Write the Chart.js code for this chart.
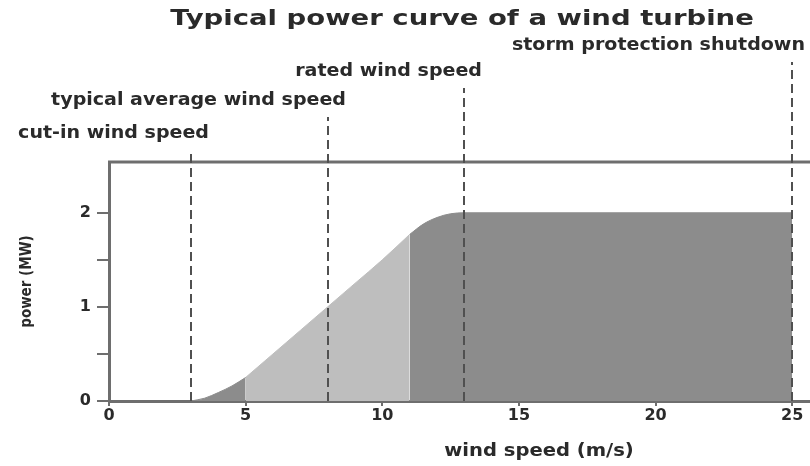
<!DOCTYPE html>
<html>
<head>
<meta charset="utf-8">
<script src="https://cdn.jsdelivr.net/npm/chart.js@4.4.1/dist/chart.umd.min.js"></script>
<style>
  html, body { margin: 0; padding: 0; background: #fff; }
  #wrap { width: 810px; height: 466px; }
</style>
</head>
<body>
<div id="wrap"><canvas id="power-chart" width="810" height="466"></canvas></div>
<script>
// power curve (wind speed m/s -> power MW)
const startupSpeeds = [3, 3.5, 4, 4.5, 5];
const startupPower = [0, 0.03, 0.09, 0.16, 0.25];
const rampSpeeds = [5, 6, 7, 8, 9, 10, 11];
const rampPower = [0.25, 0.5, 0.75, 1.0, 1.25, 1.5, 1.77];
const ratedSpeeds = [11, 11.5, 12, 12.5, 13, 25];
const ratedPower = [1.77, 1.88, 1.95, 1.99, 2.0, 2.0];

const markerSpeeds = [3, 8, 13, 25];
const markerLabels = ['cut-in wind speed', 'typical average wind speed', 'rated wind speed', 'storm protection shutdown'];

const xTicks = [0, 5, 10, 15, 20, 25];
const yTicks = [0, 0.5, 1, 1.5, 2];

const chartTitle = 'Typical power curve of a wind turbine';
const xTitle = 'wind speed (m/s)';
const yTitle = 'power (MW)';

const DARK = '#8c8c8c';
const LIGHT = '#bebebe';
const AXIS = '#6e6e6e';
const TEXT = '#2a2a2a';
const FONT = "'DejaVu Sans', Verdana, sans-serif";

const pts = (xs, ys) => xs.map((x, i) => ({ x: x, y: ys[i] }));

function areaSet(xs, ys, color) {
    return {
        data: pts(xs, ys),
        backgroundColor: color,
        borderColor: color,
        borderWidth: 1,
        pointRadius: 0,
        fill: 'origin',
        cubicInterpolationMode: 'monotone'
    };
}

// the original lettering is a wide verdana-like face, so stretch it a bit
function wideText(ctx, text, x, y, align, stretch) {
    const w = ctx.measureText(text).width * stretch;
    let left = x;
    if (align === 'right') left = x - w;
    if (align === 'center') left = x - w / 2;
    ctx.save();
    ctx.textAlign = 'left';
    ctx.translate(left, y);
    ctx.scale(stretch, 1);
    ctx.fillText(text, 0, 0);
    ctx.restore();
}

// dashed markers, labels, title and frame
const decorations = {
    id: 'decorations',
    afterDatasetsDraw(chart) {
        const { ctx, chartArea, scales } = chart;
        ctx.save();

        // top frame line
        ctx.strokeStyle = AXIS;
        ctx.lineWidth = 3;
        ctx.beginPath();
        ctx.moveTo(chartArea.left - 1, chartArea.top);
        ctx.lineTo(chart.width, chartArea.top);
        ctx.stroke();

        // dashed marker lines with their labels
        const tops = [150, 117, 88, 62];
        ctx.font = 'bold 17px ' + FONT;
        ctx.textBaseline = 'middle';
        markerSpeeds.forEach((s, i) => {
            const x = Math.round(scales.x.getPixelForValue(s));
            ctx.strokeStyle = '#505050';
            ctx.lineWidth = 2;
            ctx.setLineDash([9, 5]);
            ctx.beginPath();
            ctx.moveTo(x, chartArea.bottom);
            ctx.lineTo(x, tops[i]);
            ctx.stroke();
            ctx.setLineDash([]);
            ctx.fillStyle = TEXT;
            wideText(ctx, markerLabels[i], Math.min(x + 18, chart.width - 5), tops[i] - 16, 'right', 1.12);
        });

        // chart title
        ctx.font = 'bold 22px ' + FONT;
        ctx.fillStyle = TEXT;
        wideText(ctx, chartTitle, 462, 19, 'center', 1.25);

        // axis titles
        ctx.font = 'bold 17px ' + FONT;
        wideText(ctx, xTitle, 539, 452, 'center', 1.15);
        ctx.save();
        ctx.translate(27, (chartArea.top + chartArea.bottom) / 2);
        ctx.rotate(-Math.PI / 2);
        ctx.textAlign = 'center';
        ctx.font = "bold 15px 'DejaVu Sans Condensed', 'Liberation Sans Narrow', sans-serif";
        ctx.fillText(yTitle, 0, 0);
        ctx.restore();

        ctx.restore();
    }
};

const ctx = document.getElementById('power-chart').getContext('2d');
new Chart(ctx, {
    type: 'line',
    data: {
        datasets: [
            areaSet(startupSpeeds, startupPower, DARK),
            areaSet(rampSpeeds, rampPower, LIGHT),
            areaSet(ratedSpeeds, ratedPower, DARK)
        ]
    },
    options: {
        responsive: false,
        animation: false,
        events: [],
        layout: { padding: { top: 162, left: 0, right: 0, bottom: 0 } },
        plugins: {
            legend: { display: false },
            tooltip: { enabled: false }
        },
        scales: {
            x: {
                type: 'linear',
                min: 0,
                max: 25.65,
                afterBuildTicks: (scale) => { scale.ticks = xTicks.map(v => ({ value: v })); },
                afterFit: (scale) => { scale.height = 65; },
                border: { display: true, color: AXIS, width: 3 },
                grid: { display: true, drawOnChartArea: false, drawTicks: true, tickLength: 5, color: AXIS, lineWidth: 2 },
                ticks: { color: TEXT, font: { family: FONT, size: 16, weight: 'bold' }, padding: 0, maxRotation: 0 }
            },
            y: {
                type: 'linear',
                min: 0,
                max: 2.54,
                afterBuildTicks: (scale) => { scale.ticks = yTicks.map(v => ({ value: v })); },
                afterFit: (scale) => { scale.width = 109; },
                border: { display: true, color: AXIS, width: 3 },
                grid: { display: true, drawOnChartArea: false, drawTicks: true, tickLength: 12, color: AXIS, lineWidth: 2 },
                ticks: {
                    color: TEXT,
                    font: { family: FONT, size: 16, weight: 'bold' },
                    padding: 6,
                    callback: (v) => Number.isInteger(v) ? String(v) : ''
                }
            }
        }
    },
    plugins: [decorations]
});
</script>
</body>
</html>
